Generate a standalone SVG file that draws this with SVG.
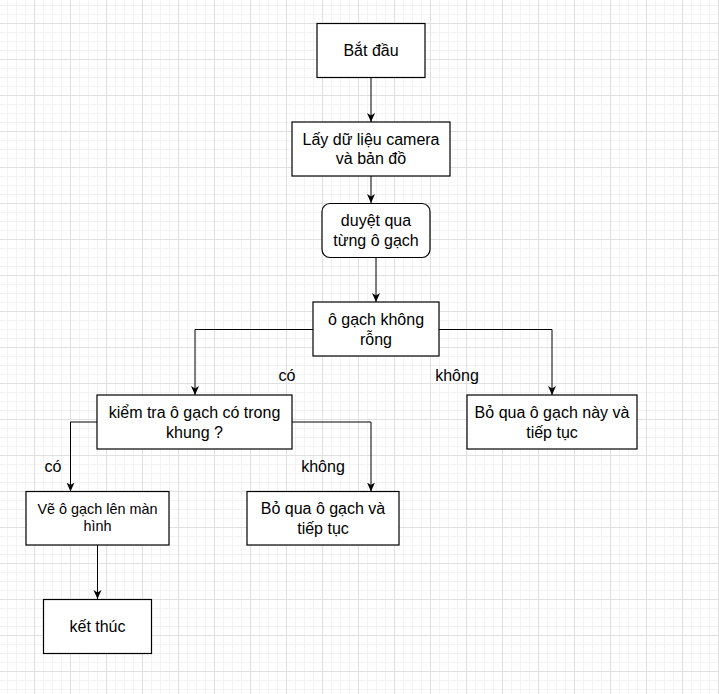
<svg xmlns="http://www.w3.org/2000/svg" width="719" height="694" viewBox="0 0 719 694">
  <style>
    .box { fill: #ffffff; stroke: #000000; stroke-width: 1.2; }
    .lbl { font-family: "Liberation Sans", Arial, sans-serif; font-size: 16px; fill: #000000; text-anchor: middle; }
    .sm { font-size: 14.4px; }
    .edge { fill: none; stroke: #000000; stroke-width: 1; marker-end: url(#arrow); }
  </style>
  <defs>
    <pattern id="gridMinor" x="7" y="5" width="9" height="9" patternUnits="userSpaceOnUse">
      <path d="M0,0.5 H9 M0.5,0 V9" stroke="#f3f3f3" stroke-width="1" fill="none"/>
    </pattern>
    <pattern id="gridMajor" x="34" y="23" width="36" height="36" patternUnits="userSpaceOnUse">
      <path d="M0,0.5 H36 M0.5,0 V36" stroke="#e0e0e0" stroke-width="1" fill="none"/>
    </pattern>
    <marker id="arrow" markerUnits="userSpaceOnUse" markerWidth="10" markerHeight="10" viewBox="0 0 10 10" refX="9" refY="5" orient="auto">
      <path d="M0,1 L9,5 L0,9 L2.5,5 Z" fill="#000000"/>
    </marker>
  </defs>

  <!-- background grid -->
  <rect width="719" height="694" fill="#ffffff"/>
  <rect width="719" height="694" fill="url(#gridMinor)"/>
  <rect width="719" height="694" fill="url(#gridMajor)"/>

  <!-- connectors -->
  <g id="connectors">
    <path class="edge" d="M371,77.5 V122"/>
    <path class="edge" d="M371,176 V203"/>
    <path class="edge" d="M376,257.5 V302"/>
    <path class="edge" d="M313,329.5 H195 V395"/>
    <path class="edge" d="M439,329.5 H552 V395"/>
    <path class="edge" d="M97,422 H70.5 V491.5"/>
    <path class="edge" d="M292,422 H371 V491.5"/>
    <path class="edge" d="M97.5,545 V599"/>
    <text class="lbl" x="287" y="381">có</text>
    <text class="lbl" x="457" y="381">không</text>
    <text class="lbl" x="53" y="472">có</text>
    <text class="lbl" x="323" y="472">không</text>
  </g>

  <g id="start">
    <rect class="box" x="317" y="23.5" width="108" height="54"/>
    <text class="lbl" x="371" y="56">Bắt đầu</text>
  </g>

  <g id="load-data">
    <rect class="box" x="292" y="122" width="158" height="54"/>
    <text class="lbl" x="371" y="144.8">Lấy dữ liệu camera</text>
    <text class="lbl" x="371" y="164.3">và bản đồ</text>
  </g>

  <g id="iterate">
    <rect class="box" x="322" y="203.5" width="108" height="54" rx="8" ry="8"/>
    <text class="lbl" x="376" y="226.3">duyệt qua</text>
    <text class="lbl" x="376" y="245.8">từng ô gạch</text>
  </g>

  <g id="not-empty">
    <rect class="box" x="313" y="302" width="126" height="54"/>
    <text class="lbl" x="376" y="325">ô gạch không</text>
    <text class="lbl" x="376" y="344.5">rỗng</text>
  </g>

  <g id="in-frame">
    <rect class="box" x="97" y="395" width="195" height="54"/>
    <text class="lbl" x="194.5" y="418">kiểm tra ô gạch có trong</text>
    <text class="lbl" x="194.5" y="437.5">khung ?</text>
  </g>

  <g id="skip-empty">
    <rect class="box" x="467" y="395" width="170" height="54"/>
    <text class="lbl" x="552" y="418">Bỏ qua ô gạch này và</text>
    <text class="lbl" x="552" y="437.5">tiếp tục</text>
  </g>

  <g id="draw-tile">
    <rect class="box" x="26" y="491.5" width="143" height="53.5"/>
    <text class="lbl sm" x="97.5" y="513.5">Vẽ ô gạch lên màn</text>
    <text class="lbl sm" x="97.5" y="531">hình</text>
  </g>

  <g id="skip-outside">
    <rect class="box" x="247" y="491.5" width="152" height="53.5"/>
    <text class="lbl" x="323" y="514">Bỏ qua ô gạch và</text>
    <text class="lbl" x="323" y="533.5">tiếp tục</text>
  </g>

  <g id="end">
    <rect class="box" x="43.5" y="599.5" width="108" height="54"/>
    <text class="lbl" x="97.5" y="632">kết thúc</text>
  </g>
</svg>
